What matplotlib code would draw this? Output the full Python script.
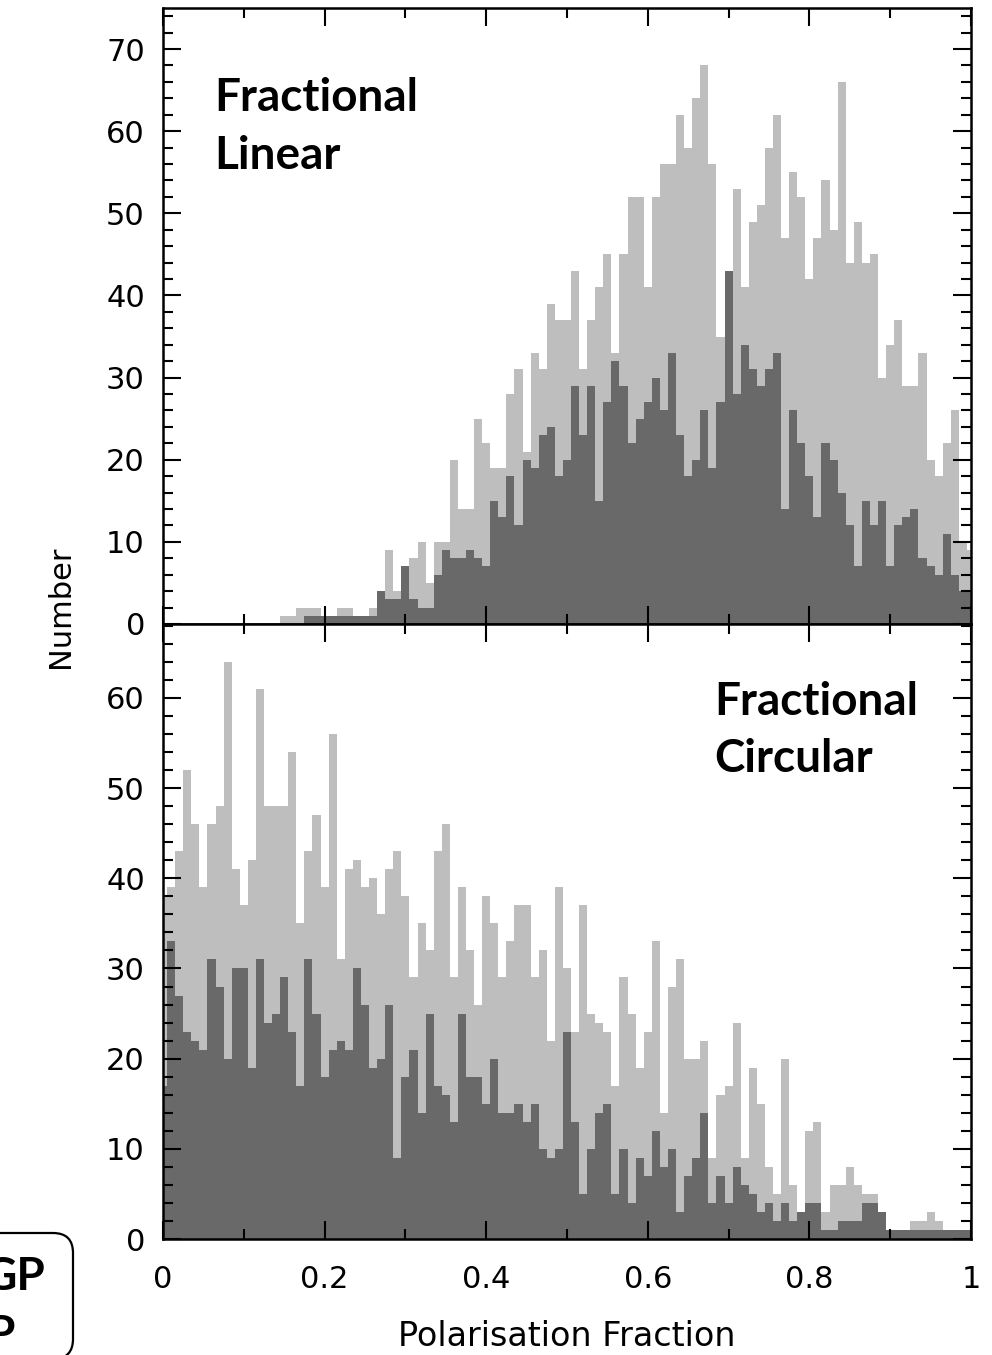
import numpy as np
import matplotlib.pyplot as plt
from matplotlib.patches import FancyBboxPatch
from matplotlib.ticker import MultipleLocator
from matplotlib.transforms import IdentityTransform

# histogram bins: 0.01 wide, centred on 0.00 ... 1.00
bin_centres = np.linspace(0, 1, 101)
bin_edges = np.append(bin_centres - 0.005, 1.005)

# fractional linear polarisation (top panel), counts per bin
lin_all = [0, 0, 0, 0, 0, 0, 0, 0, 0, 0,
           0, 0, 0, 0, 0, 1, 1, 2, 2, 2,
           1, 1, 2, 2, 1, 1, 2, 4, 9, 4,
           7, 8, 10, 5, 10, 10, 20, 14, 14, 25,
           22, 19, 19, 28, 31, 21, 33, 31, 39, 37,
           37, 43, 31, 37, 41, 45, 33, 45, 52, 52,
           41, 52, 56, 56, 62, 58, 64, 68, 56, 35,
           43, 53, 41, 49, 51, 58, 62, 47, 55, 52,
           42, 47, 54, 48, 66, 44, 49, 44, 45, 30,
           34, 37, 29, 29, 33, 20, 18, 22, 26, 10,
           9]
lin_sub = [0, 0, 0, 0, 0, 0, 0, 0, 0, 0,
           0, 0, 0, 0, 0, 0, 0, 0, 1, 1,
           1, 1, 1, 1, 1, 1, 1, 4, 3, 3,
           7, 3, 2, 2, 6, 9, 8, 8, 9, 8,
           7, 15, 13, 18, 12, 20, 19, 23, 24, 18,
           20, 29, 23, 29, 15, 27, 32, 29, 22, 25,
           27, 30, 26, 33, 23, 18, 20, 26, 19, 27,
           43, 28, 34, 31, 29, 31, 33, 14, 26, 22,
           18, 13, 22, 20, 16, 12, 7, 15, 12, 15,
           7, 12, 13, 14, 8, 7, 6, 11, 6, 4,
           4]

# fractional circular polarisation (bottom panel), counts per bin
circ_all = [38, 39, 43, 52, 46, 39, 46, 48, 64, 41,
            37, 42, 61, 48, 48, 48, 54, 35, 43, 47,
            39, 56, 31, 41, 42, 39, 40, 36, 41, 43,
            38, 29, 35, 32, 43, 46, 29, 39, 32, 26,
            38, 35, 29, 33, 37, 37, 29, 32, 22, 39,
            30, 23, 37, 25, 24, 23, 17, 29, 25, 19,
            23, 33, 14, 28, 31, 20, 20, 22, 9, 16,
            17, 24, 9, 19, 15, 8, 5, 20, 6, 3,
            12, 13, 3, 6, 6, 8, 6, 5, 5, 3,
            1, 1, 1, 2, 2, 3, 2, 1, 1, 1,
            1]
circ_sub = [17, 33, 27, 23, 22, 21, 31, 28, 20, 30,
            30, 19, 31, 24, 25, 29, 23, 17, 31, 25,
            18, 21, 22, 21, 30, 26, 19, 20, 26, 9,
            18, 21, 14, 25, 17, 16, 13, 25, 18, 18,
            15, 20, 14, 14, 15, 13, 15, 10, 9, 10,
            23, 13, 5, 10, 14, 15, 5, 10, 4, 9,
            7, 12, 8, 10, 3, 7, 9, 14, 4, 7,
            4, 8, 6, 5, 3, 4, 2, 4, 2, 3,
            4, 4, 1, 1, 2, 2, 2, 4, 4, 3,
            1, 1, 1, 1, 1, 1, 1, 1, 1, 1,
            1]

x_ticks = [0, 0.2, 0.4, 0.6, 0.8, 1.0]
x_tick_labels = ["0", "0.2", "0.4", "0.6", "0.8", "1"]

LIGHT = "#bebebe"
DARK = "#696969"
LABEL_FONT = dict(family="Lato", fontweight="bold", fontsize=33)


def style_panel(ax, ymax, show_xlabels):
    ax.set_xlim(0, 1)
    ax.set_ylim(0, ymax)
    ax.set_xticks(x_ticks)
    ax.xaxis.set_minor_locator(MultipleLocator(0.1))
    ax.yaxis.set_major_locator(MultipleLocator(10))
    ax.yaxis.set_minor_locator(MultipleLocator(2))
    ax.tick_params(which="both", direction="in", top=True, right=True,
                   width=1.5, colors="black")
    ax.tick_params(which="major", length=13)
    ax.tick_params(which="minor", length=7)
    ax.tick_params(axis="x", pad=19, labelsize=22)
    ax.tick_params(axis="y", pad=13, labelsize=22)
    if show_xlabels:
        ax.set_xticklabels(x_tick_labels)
    else:
        ax.tick_params(labelbottom=False)
    for sp in ax.spines.values():
        sp.set_linewidth(1.8)


fig = plt.figure(figsize=(9.92, 13.55), dpi=100)
ax_lin = fig.add_axes([0.1643, 0.5395, 0.8145, 0.4546])
ax_circ = fig.add_axes([0.1643, 0.0856, 0.8145, 0.4539])

ax_lin.stairs(lin_all, bin_edges, fill=True, color=LIGHT)
ax_lin.stairs(lin_sub, bin_edges, fill=True, color=DARK)
style_panel(ax_lin, 75, False)
ax_lin.text(0.064, 0.833, "Fractional", transform=ax_lin.transAxes, va="baseline", **LABEL_FONT)
ax_lin.text(0.064, 0.738, "Linear", transform=ax_lin.transAxes, va="baseline", **LABEL_FONT)

ax_circ.stairs(circ_all, bin_edges, fill=True, color=LIGHT)
ax_circ.stairs(circ_sub, bin_edges, fill=True, color=DARK)
style_panel(ax_circ, 68.2, True)
ax_circ.text(0.682, 0.852, "Fractional", transform=ax_circ.transAxes, va="baseline", **LABEL_FONT)
ax_circ.text(0.682, 0.760, "Circular", transform=ax_circ.transAxes, va="baseline", **LABEL_FONT)

fig.text(0.0605, 0.552, "Number", rotation=90, ha="center", va="center", fontsize=22)
fig.text(0.5716, 0.0066, "Polarisation Fraction", ha="center", va="baseline", fontsize=24)

# legend box in the lower-left corner, cut off by the figure edge as in the original
box = FancyBboxPatch((-40, -4), 113, 126, boxstyle="round,pad=0,rounding_size=20",
                     transform=IdentityTransform(), facecolor="white",
                     edgecolor="black", linewidth=1.6)
fig.add_artist(box)
fig.text(45 / 992, 0.048, "GP", ha="right", va="baseline", **LABEL_FONT)
fig.text(15 / 992, 0.0055, "P", ha="right", va="baseline", **LABEL_FONT)

fig.savefig("out.png", dpi=100)
